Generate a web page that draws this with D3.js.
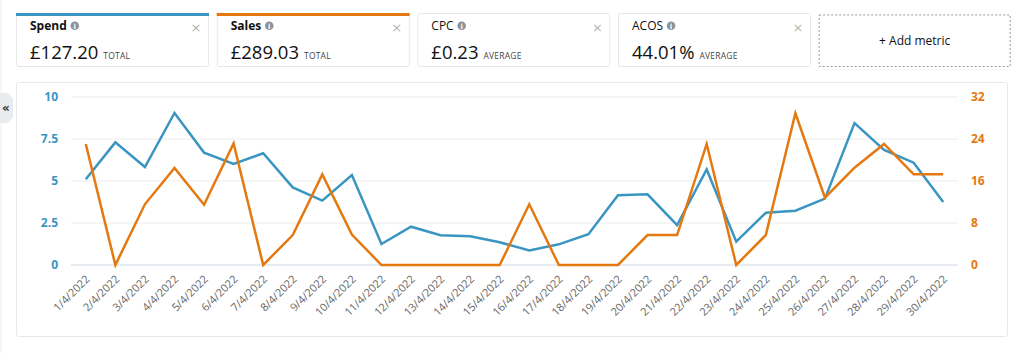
<!DOCTYPE html>
<html><head><meta charset="utf-8">
<script src="https://cdn.jsdelivr.net/npm/d3@7"></script>
<style>
html,body{margin:0;padding:0;background:#fff;}
svg{display:block;}
</style></head>
<body>
<svg id="c" width="1024" height="353"></svg>
<script>
const dates = ["1/4/2022","2/4/2022","3/4/2022","4/4/2022","5/4/2022","6/4/2022","7/4/2022","8/4/2022","9/4/2022","10/4/2022",
"11/4/2022","12/4/2022","13/4/2022","14/4/2022","15/4/2022","16/4/2022","17/4/2022","18/4/2022","19/4/2022","20/4/2022",
"21/4/2022","22/4/2022","23/4/2022","24/4/2022","25/4/2022","26/4/2022","27/4/2022","28/4/2022","29/4/2022","30/4/2022"];
const spend = [5.1,7.3,5.83,9.05,6.69,6.01,6.65,4.62,3.83,5.36,
1.25,2.28,1.77,1.71,1.35,0.87,1.23,1.83,4.15,4.21,
2.38,5.69,1.39,3.11,3.23,3.95,8.45,6.85,6.09,3.75];
const sales = [23.05,0,11.56,18.48,11.49,23.17,0,5.71,17.27,5.8,
0,0,0,0,0,11.56,0,0,0,5.71,
5.71,23.05,0,5.71,28.9,12.83,18.54,23.05,17.27,17.27];
const leftTicks = [0,2.5,5,7.5,10];
const leftTickLabels = ["0","2.5","5","7.5","10"];
const rightTicks = [0,8,16,24,32];
const cards = [
  {title:"Spend", value:"£127.20", sub:"TOTAL", color:"#3a95c2", info:true},
  {title:"Sales", value:"£289.03", sub:"TOTAL", color:"#e47911", info:true},
  {title:"CPC", value:"£0.23", sub:"AVERAGE", color:null, info:true},
  {title:"ACOS", value:"44.01%", sub:"AVERAGE", color:null, info:true}
];

const BLUE = "#3a95c2", ORANGE = "#e47911";
const svg = d3.select("#c");

// left edge faint line
svg.append("line").attr("x1",1).attr("x2",1).attr("y1",0).attr("y2",353).attr("stroke","#eeeeee");

// cards
const cardW = 192, cardGap = 8.67, cardX0 = 16, cardY = 13, cardH = 53;
cards.forEach((c,i)=>{
  const x = cardX0 + i*(cardW+cardGap);
  const g = svg.append("g").attr("transform",`translate(${x},${cardY})`);
  g.append("rect").attr("x",0.5).attr("y",0.5).attr("width",cardW).attr("height",cardH)
    .attr("rx",2).attr("fill","#fff").attr("stroke","#e6e6e6");
  if(c.color){
    g.append("rect").attr("x",0).attr("y",0).attr("width",cardW+1).attr("height",3).attr("fill",c.color);
  }
  const t = g.append("text").attr("x",14).attr("y",17).attr("font-family","Open Sans, sans-serif")
    .attr("font-size",12).attr("fill","#111").attr("font-weight", c.color? 700 : 400).text(c.title);
  const tw = t.node().getComputedTextLength();
  g.append("circle").attr("cx",14+tw+8).attr("cy",12.8).attr("r",4.3).attr("fill","#8d9399");
  g.append("text").attr("x",14+tw+8).attr("y",15.6).attr("text-anchor","middle").attr("font-size",7)
    .attr("font-family","DejaVu Sans, sans-serif").attr("font-weight",700).attr("fill","#fff").text("i");
  g.append("text").attr("x",cardW-12).attr("y",19).attr("text-anchor","middle").attr("font-size",13)
    .attr("font-family","DejaVu Sans, sans-serif").attr("fill","#b5b5b5").text("×");
  const v = g.append("text").attr("x",14).attr("y",45.5).attr("font-family","Open Sans, sans-serif")
    .attr("font-size",18.5).attr("fill","#111").text(c.value);
  const vw = v.node().getComputedTextLength();
  g.append("text").attr("x",14+vw+5).attr("y",45.5).attr("font-family","Open Sans, sans-serif")
    .attr("font-size",8.5).attr("fill","#444").attr("letter-spacing",0.2).text(c.sub);
});
// add metric
{
  const x = cardX0 + 4*(cardW+cardGap);
  const g = svg.append("g").attr("transform",`translate(${x},${cardY+1.5})`);
  g.append("rect").attr("x",0.5).attr("y",0.5).attr("width",cardW-1).attr("height",cardH-1.5)
    .attr("fill","#fff").attr("stroke","#9a9a9a").attr("stroke-dasharray","2,2");
  g.append("text").attr("x",cardW/2).attr("y",30).attr("text-anchor","middle").attr("font-family","Open Sans, sans-serif")
    .attr("font-size",12).attr("fill","#111").text("+ Add metric");
}

// chart panel
svg.append("rect").attr("x",16.5).attr("y",82.5).attr("width",991).attr("height",254).attr("rx",2)
  .attr("fill","#fff").attr("stroke","#e8e8e8");
// collapse tab
svg.append("path").attr("d","M0,93 L8,93 L13,99 L13,117 L8,123 L0,123 Z").attr("fill","#e9ebed");
svg.append("text").attr("x",6).attr("y",112).attr("text-anchor","middle").attr("font-size",12)
  .attr("font-family","DejaVu Sans, sans-serif").attr("font-weight",700).attr("fill","#333").text("«");

const x = d3.scaleBand().domain(dates).range([71,958]);
const xc = d => x(d) + x.bandwidth()/2;
const yL = d3.scaleLinear().domain([0,10]).range([265,97]);
const yR = d3.scaleLinear().domain([0,32]).range([265,97]);

// gridlines
svg.append("g").selectAll("line").data(leftTicks.slice(1)).join("line")
  .attr("x1",71).attr("x2",958).attr("y1",d=>yL(d)).attr("y2",d=>yL(d))
  .attr("stroke","#ededed").attr("stroke-width",1);
svg.append("line").attr("x1",71).attr("x2",958).attr("y1",yL(0)).attr("y2",yL(0))
  .attr("stroke","#cdd9e5").attr("stroke-width",1);

// left axis
const axL = d3.axisLeft(yL).tickValues(leftTicks).tickFormat((d,i)=>leftTickLabels[i]).tickSize(0).tickPadding(0);
const gL = svg.append("g").attr("transform","translate(58,0)").call(axL);
gL.select(".domain").remove();
gL.selectAll("text").attr("fill",BLUE).attr("font-family","Open Sans, sans-serif").attr("font-size",12).attr("font-weight",700);

// right axis
const axR = d3.axisRight(yR).tickValues(rightTicks).tickSize(0).tickPadding(0);
const gR = svg.append("g").attr("transform","translate(971,0)").call(axR);
gR.select(".domain").remove();
gR.selectAll("text").attr("fill",ORANGE).attr("font-family","Open Sans, sans-serif").attr("font-size",12).attr("font-weight",700);

// x axis
const axX = d3.axisBottom(x).tickSize(0).tickPadding(0);
const gX = svg.append("g").attr("transform","translate(0,274)").call(axX);
gX.select(".domain").remove();
gX.selectAll("text").attr("fill","#666").attr("font-family","Open Sans, sans-serif").attr("font-size",11)
  .attr("text-anchor","end").attr("dy","0.35em").attr("transform","translate(2,3) rotate(-45)");

// lines
const lineL = d3.line().x((d,i)=>xc(dates[i])).y(d=>yL(d));
const lineR = d3.line().x((d,i)=>xc(dates[i])).y(d=>yR(d));
svg.append("path").datum(spend).attr("d",lineL).attr("fill","none").attr("stroke",BLUE).attr("stroke-width",2.5).attr("stroke-linejoin","miter");
svg.append("path").datum(sales).attr("d",lineR).attr("fill","none").attr("stroke",ORANGE).attr("stroke-width",2.5).attr("stroke-linejoin","miter");
</script>
</body></html>
